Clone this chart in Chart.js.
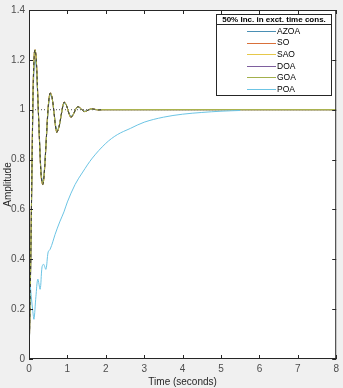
<!DOCTYPE html>
<html>
<head>
<meta charset="utf-8">
<script src="https://cdn.jsdelivr.net/npm/chart.js@4"></script>
<style>
  html, body { margin: 0; padding: 0; background: #f0f0f0; }
  #wrap { width: 343px; height: 388px; position: relative; }
</style>
</head>
<body>
<div id="wrap"><canvas id="stepChart" width="343" height="388"></canvas></div>
<script>
// time axis for the oscillating responses (seconds)
const tOsc = [0, 0.02, 0.05, 0.08, 0.11, 0.14, 0.16, 0.19, 0.23, 0.28, 0.32, 0.36, 0.40, 0.45, 0.50, 0.55, 0.60, 0.65,
  0.72, 0.78, 0.84, 0.91, 0.97, 1.03, 1.09, 1.15, 1.21, 1.27, 1.35, 1.43, 1.5, 1.6, 1.7, 1.8, 1.9, 8];
const soVals = [0, 0.15, 0.45, 0.80, 1.10, 1.23, 1.24, 1.20, 1.05, 0.85, 0.73, 0.70, 0.75, 0.88, 1.01, 1.067, 1.05, 0.99,
  0.91, 0.93, 0.98, 1.03, 1.02, 0.99, 0.97, 0.98, 1.0, 1.012, 1.005, 0.993, 0.995, 1.003, 1.002, 0.999, 1.0, 1.0];
const azoaVals = [0, 0.14, 0.43, 0.78, 1.07, 1.19, 1.20, 1.17, 1.04, 0.86, 0.74, 0.71, 0.76, 0.88, 1.0, 1.06, 1.05, 0.99,
  0.92, 0.93, 0.98, 1.025, 1.02, 0.99, 0.975, 0.98, 1.0, 1.01, 1.004, 0.994, 0.996, 1.002, 1.001, 1.0, 1.0, 1.0];
// POA: slow response
const tPoa = [0, 0.03, 0.06, 0.1, 0.13, 0.18, 0.23, 0.29, 0.34, 0.38, 0.44, 0.5, 0.55, 0.62, 0.68, 0.8, 0.91, 1.0, 1.2,
  1.4, 1.65, 2.0, 2.3, 2.64, 3.0, 3.5, 4.0, 4.5, 5.0, 5.5];
const poaVals = [0, 0.29, 0.25, 0.19, 0.16, 0.25, 0.32, 0.28, 0.37, 0.38, 0.36, 0.43, 0.44, 0.47, 0.50, 0.55, 0.59, 0.63, 0.70,
  0.75, 0.806, 0.865, 0.90, 0.925, 0.95, 0.97, 0.982, 0.989, 0.994, 0.997];
const xTicks = [0, 1, 2, 3, 4, 5, 6, 7, 8];
const yTicks = [0, 0.2, 0.4, 0.6, 0.8, 1, 1.2, 1.4];
const legendTitle = '50% Inc. in exct. time cons.';

const pts = (ts, vs) => ts.map((t, i) => ({ x: t, y: vs[i] }));

// order: lower = drawn on top
const series = [
  { label: 'AZOA', color: '#4a8fb4', data: pts(tOsc, azoaVals), order: 4 },
  { label: 'SO',   color: '#d9703a', data: pts(tOsc, soVals), order: 6 },
  { label: 'SAO',  color: '#e6c84a', data: pts(tOsc, soVals), order: 3 },
  { label: 'DOA',  color: '#7e5f9e', data: pts(tOsc, soVals), order: 5 },
  { label: 'GOA',  color: '#a3b04c', data: pts(tOsc, soVals), order: 2 },
  { label: 'POA',  color: '#6cc4e4', data: pts(tPoa, poaVals), order: 1 }
];

const datasets = [
  // dotted steady-state reference
  { label: '_ref', data: [{ x: 0, y: 1 }, { x: 8, y: 1 }], borderColor: '#555', borderWidth: 1,
    borderDash: [1, 2], pointRadius: 0, order: 10 }
];
series.forEach(s => datasets.push({
  label: s.label, data: s.data, borderColor: s.color, borderWidth: 1, pointRadius: 0, tension: 0.35, order: s.order
}));
// dark dashed overlay on the oscillation
datasets.push({ label: '_dash', data: pts(tOsc.slice(0, 35), soVals.slice(0, 35)), borderColor: '#3a3a3a',
  borderWidth: 1, borderDash: [3, 3], pointRadius: 0, tension: 0.35, order: 0 });

const fmt = v => String(Math.round(v * 10) / 10);

const frame = {
  id: 'frame',
  beforeDatasetsDraw(chart) {
    const { ctx, chartArea: a } = chart;
    ctx.save();
    ctx.fillStyle = '#fff';
    ctx.fillRect(a.left, a.top, a.right - a.left, a.bottom - a.top);
    ctx.restore();
  },
  afterDraw(chart) {
    const { ctx, chartArea: a, scales: { x, y } } = chart;
    ctx.save();
    ctx.strokeStyle = '#262626';
    ctx.lineWidth = 1;
    ctx.strokeRect(a.left + 0.5, a.top + 0.5, a.right - a.left - 1, a.bottom - a.top - 1);
    ctx.beginPath();
    xTicks.forEach(v => {
      const px = Math.round(x.getPixelForValue(v)) + 0.5;
      ctx.moveTo(px, a.bottom); ctx.lineTo(px, a.bottom - 4);
      ctx.moveTo(px, a.top); ctx.lineTo(px, a.top + 4);
    });
    yTicks.forEach(v => {
      const py = Math.round(y.getPixelForValue(v)) + 0.5;
      ctx.moveTo(a.left, py); ctx.lineTo(a.left + 4, py);
      ctx.moveTo(a.right, py); ctx.lineTo(a.right - 4, py);
    });
    ctx.stroke();

    // legend box
    const bx = 216, by = 14, bw = 115, bh = 81;
    ctx.fillStyle = '#fff';
    ctx.fillRect(bx, by, bw, bh);
    ctx.strokeStyle = '#262626';
    ctx.strokeRect(bx + 0.5, by + 0.5, bw, bh);
    ctx.beginPath();
    ctx.moveTo(bx, by + 10.5); ctx.lineTo(bx + bw, by + 10.5);
    ctx.stroke();
    ctx.fillStyle = '#000';
    ctx.font = 'bold 8px "Liberation Sans", Arial, sans-serif';
    ctx.textAlign = 'center';
    ctx.textBaseline = 'middle';
    ctx.fillText(legendTitle, bx + bw / 2 + 0.5, by + 6, bw - 4);
    ctx.font = '8.5px "Liberation Sans", Arial, sans-serif';
    ctx.textAlign = 'left';
    series.forEach((s, i) => {
      const ly = 31 + i * 11.6;
      ctx.strokeStyle = s.color;
      ctx.beginPath();
      ctx.moveTo(247, Math.round(ly) + 0.5); ctx.lineTo(276, Math.round(ly) + 0.5);
      ctx.stroke();
      ctx.fillStyle = '#000';
      ctx.fillText(s.label, 277, ly + 0.5);
    });
    ctx.restore();
  }
};

new Chart(document.getElementById('stepChart'), {
  type: 'line',
  data: { datasets },
  options: {
    responsive: false,
    animation: false,
    layout: { padding: { top: 5, right: 6, left: 0, bottom: 0 } },
    plugins: { legend: { display: false }, tooltip: { enabled: false } },
    scales: {
      x: {
        type: 'linear', min: 0, max: 8,
        afterBuildTicks: s => { s.ticks = xTicks.map(v => ({ value: v })); },
        afterFit: s => { s.height = 29; },
        grid: { display: false, drawTicks: false, tickLength: 0 },
        border: { display: false },
        ticks: { color: '#4d4d4d', font: { size: 10, family: '"Liberation Sans", Arial' }, padding: 4, maxRotation: 0,
          callback: v => fmt(v) },
        title: { display: true, text: 'Time (seconds)', color: '#262626', padding: 0,
          font: { size: 10, family: '"Liberation Sans", Arial' } }
      },
      y: {
        min: 0, max: 1.4,
        afterBuildTicks: s => { s.ticks = yTicks.map(v => ({ value: v })); },
        afterFit: s => { s.width = 29; },
        grid: { display: false, drawTicks: false, tickLength: 0 },
        border: { display: false },
        ticks: { color: '#4d4d4d', font: { size: 10, family: '"Liberation Sans", Arial' }, padding: 4,
          callback: v => fmt(v) },
        title: { display: true, text: 'Amplitude', color: '#262626', padding: { top: 2, bottom: 0 },
          font: { size: 10, family: '"Liberation Sans", Arial' } }
      }
    }
  },
  plugins: [frame]
});
</script>
</body>
</html>
